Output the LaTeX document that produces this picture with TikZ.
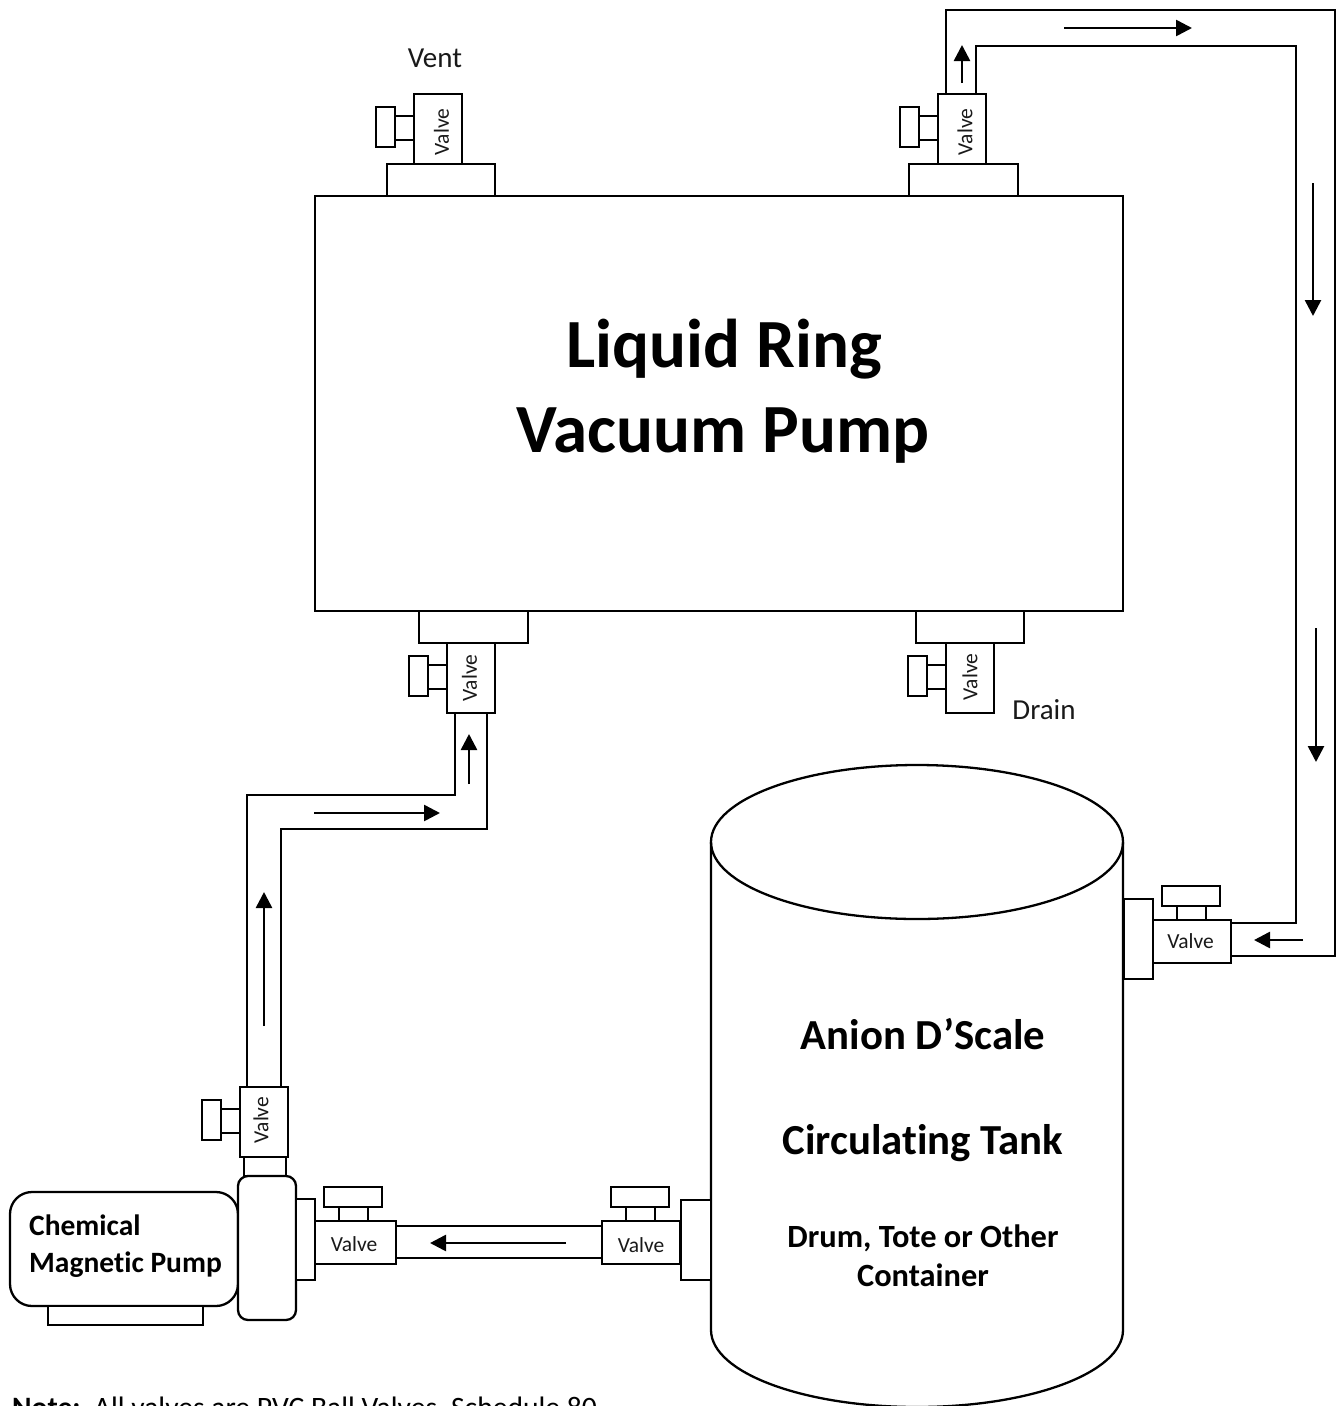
\documentclass[tikz,border=0pt]{standalone}
\usepackage{fontspec}
\setmainfont{Carlito}[Ligatures=NoCommon]
\usetikzlibrary{arrows.meta}
\newcommand{\bx}[6][]{% name x0 y0 x1 y1
  \pgfmathsetmacro{\cxv}{(#3+#5)/2}\pgfmathsetmacro{\cyv}{(#4+#6)/2}
  \pgfmathsetmacro{\wv}{abs(#5-#3)}\pgfmathsetmacro{\hv}{abs(#6-#4)}
  \node[partbox,minimum width=\wv pt,minimum height=\hv pt,#1] (#2) at (\cxv,\cyv) {};}
\newcommand{\vval}[5]{% name, left x of body, top y, label shift : vertical valve, handle to the left
  \pgfmathsetmacro{\xa}{#2}\pgfmathsetmacro{\ya}{#3}
  \pgfmathsetmacro{\xb}{#2+48}\pgfmathsetmacro{\yb}{#3+70}
  \bx{#1}{\xa}{\ya}{\xb}{\yb}
  \node[vlabel] (#1t) at ([shift={(#4,#5)}]#1.center) {\rotatebox{90}{Valve}};
  \pgfmathsetmacro{\xc}{#2-19}\pgfmathsetmacro{\yc}{#3+22}\pgfmathsetmacro{\yd}{#3+46}
  \bx{#1s}{\xc}{\yc}{\xa}{\yd}
  \pgfmathsetmacro{\xd}{#2-38}\pgfmathsetmacro{\ye}{#3+13}\pgfmathsetmacro{\yf}{#3+53}
  \bx{#1h}{\xd}{\ye}{\xc}{\yf}}
\newcommand{\hval}[6]{% name, left x of body, top y, width, label shift : horizontal valve, handle above
  \pgfmathsetmacro{\xa}{#2}\pgfmathsetmacro{\ya}{#3}
  \pgfmathsetmacro{\xb}{#2+#4}\pgfmathsetmacro{\yb}{#3+43}
  \bx{#1}{\xa}{\ya}{\xb}{\yb}
  \node[vlabel] (#1t) at ([shift={(#5,#6)}]#1.center) {Valve};
  \pgfmathsetmacro{\xc}{#2+24}\pgfmathsetmacro{\xd}{#2+53}\pgfmathsetmacro{\yc}{#3-14}
  \bx{#1s}{\xc}{\yc}{\xd}{\ya}
  \pgfmathsetmacro{\xe}{#2+9}\pgfmathsetmacro{\xf}{#2+67}\pgfmathsetmacro{\yd}{#3-34}
  \bx{#1h}{\xe}{\yd}{\xf}{\yc}}
\tikzset{
  partbox/.style={draw=black,line width=2.3pt,inner sep=0pt,outer sep=0pt,rectangle,fill=white},
  vlabel/.style={inner sep=0pt,font=\fontsize{21.5}{21.5}\selectfont,text=black!90},
  pipe/.style={draw=black,line width=2.3pt,line join=miter},
  flow/.style={draw=black,line width=2.6pt,-{Triangle[length=16pt,width=16pt]}},
  big/.style={anchor=base,inner sep=0pt,font=\fontsize{69}{69}\selectfont\bfseries},
  mid/.style={anchor=base,inner sep=0pt,font=\fontsize{42.8}{43}\selectfont\bfseries},
  sml/.style={anchor=base,inner sep=0pt,font=\fontsize{32.4}{33}\selectfont\bfseries},
  pmp/.style={anchor=base west,inner sep=0pt,font=\fontsize{29.5}{30}\selectfont\bfseries},
  txt/.style={anchor=base,inner sep=0pt,font=\fontsize{29}{29}\selectfont,text=black!90},
}
\begin{document}
\begin{tikzpicture}[x=1pt,y=-1pt]
\useasboundingbox (0,0) rectangle (1340,1406);
\clip (0,0) rectangle (1340,1406);
% tank
\coordinate (tankL) at (711,842);
\coordinate (tankLb) at (711,1330);
\coordinate (tankRb) at (1123,1330);
\coordinate (tankR) at (1123,842);
\draw[pipe] (tankL) -- (tankLb) arc[start angle=180,end angle=360,x radius=206pt,y radius=77pt] -- (tankR);
\coordinate (tankC) at (917,842);
\draw[pipe] (tankC) ellipse[x radius=206pt,y radius=77pt];
% main vessel
\bx{vessel}{315}{196}{1123}{611}
% top valves
\bx{flTL}{387}{164}{495}{196}
\vval{vTL}{414}{94}{3.5}{3}
\bx{flTR}{909}{164}{1018}{196}
\vval{vTR}{938}{94}{3}{3}
% bottom valves
\bx{flBL}{419}{611}{528}{643}
\vval{vBL}{447}{643}{-1.5}{0}
\bx{flBR}{916}{611}{1024}{643}
\vval{vBR}{946}{643}{0}{-1}
% tank return valve
\bx{flT}{1124}{899}{1153}{979}
\hval{vT}{1153}{920}{78}{-1.5}{0}
% pump and suction line
\bx{coup}{244}{1157}{286}{1176}
\vval{vP}{240}{1087}{-3}{-2}
\bx[rounded corners=22pt]{motor}{10}{1192}{238}{1306}
\bx{base}{48}{1306}{203}{1325}
\bx[rounded corners=10pt]{head}{238}{1176}{296}{1320}
\bx{flP}{296}{1199}{315}{1280}
\hval{vS}{315}{1221}{81}{-1.5}{2}
\hval{vD}{602}{1221}{78}{0}{2.5}
\bx{flD}{681}{1200}{711}{1280}
% pipes
\coordinate (topO) at (1335,10);
\coordinate (topI) at (1296,46);
\draw[pipe] ([xshift=8pt]vTR.north west) |- (topO) |- ([yshift=7pt]vT.south east);
\draw[pipe] ([xshift=38pt]vTR.north west) |- (topI) |- ([yshift=-3pt]vT.north east);
\coordinate (bendO) at (247,795);
\coordinate (bendI) at (281,829);
\draw[pipe] ([xshift=7pt]vP.north west) |- (bendO) -| ([xshift=8pt]vBL.south west);
\draw[pipe] ([xshift=41pt]vP.north west) |- (bendI) -| ([xshift=40pt]vBL.south west);
\draw[pipe] ([yshift=-5pt]vS.north east) -- ([yshift=-5pt]vD.north west);
\draw[pipe] ([yshift=6pt]vS.south east) -- ([yshift=6pt]vD.south west);
% flow arrows
\coordinate (a1) at (962,83);   \coordinate (a1e) at (962,45);
\coordinate (a2) at (1064,28);  \coordinate (a2e) at (1192,28);
\coordinate (a3) at (1313,183); \coordinate (a3e) at (1313,316);
\coordinate (a4) at (1316,628); \coordinate (a4e) at (1316,762);
\coordinate (a5) at (1303,940); \coordinate (a5e) at (1254,940);
\coordinate (a6) at (469,784);  \coordinate (a6e) at (469,734);
\coordinate (a7) at (314,813);  \coordinate (a7e) at (440,813);
\coordinate (a8) at (264,1026); \coordinate (a8e) at (264,892);
\coordinate (a9) at (566,1243); \coordinate (a9e) at (430,1243);
\foreach \s/\e in {a1/a1e,a2/a2e,a3/a3e,a4/a4e,a5/a5e,a6/a6e,a7/a7e,a8/a8e,a9/a9e}
  \draw[flow] (\s) -- (\e);
% labels
\node[big] (t1) at (724,367) {Liquid Ring};
\node[big] (t2) at (723,452) {Vacuum Pump};
\node[mid] (t3) at (923,1049) {Anion D’Scale};
\node[mid] (t4) at (923,1154) {Circulating Tank};
\node[sml] (t5) at (923,1247) {Drum, Tote or Other};
\node[sml] (t6) at (923,1286) {Container};
\node[pmp] (t7) at (29,1235) {Chemical};
\node[pmp] (t8) at (29,1272) {Magnetic Pump};
\node[txt] (t9) at (435,67) {Vent};
\node[txt] (t10) at (1044,719) {Drain};
\node[anchor=base west,inner sep=0pt,font=\fontsize{29.6}{30}\selectfont] (t11) at (12,1417) {\textbf{Note:}\ \ All valves are PVC Ball Valves, Schedule 80};
\end{tikzpicture}
\end{document}
